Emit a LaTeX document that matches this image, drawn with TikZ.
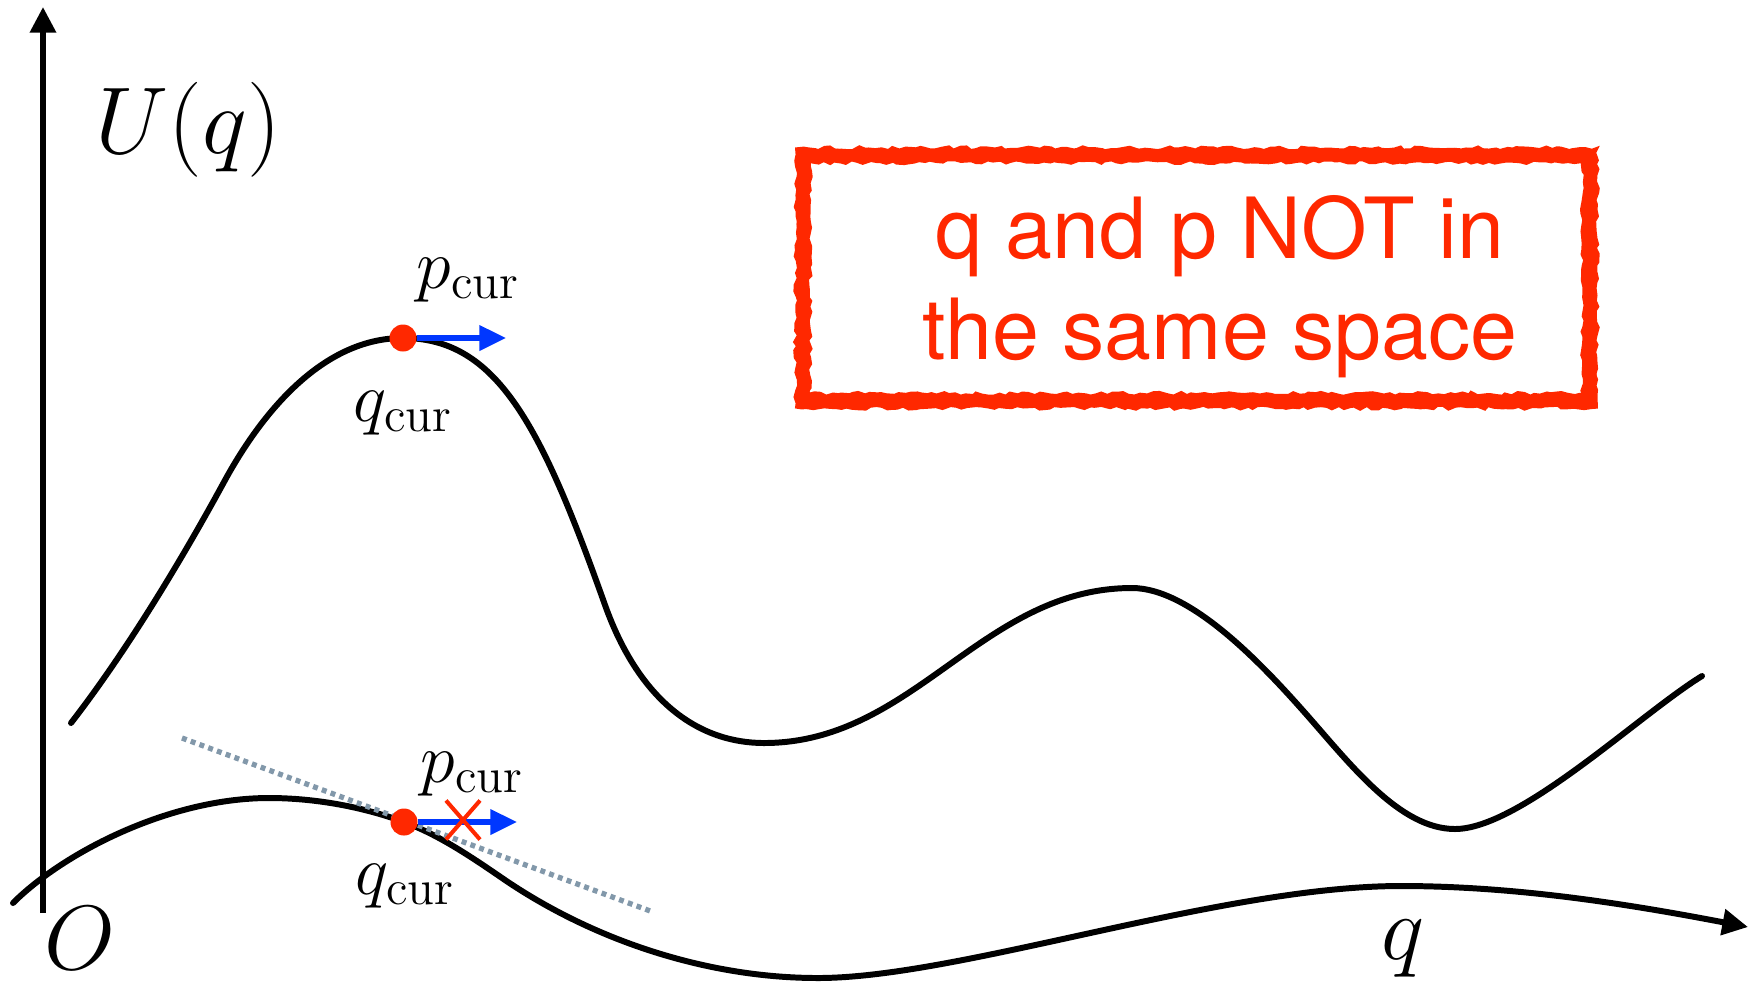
\documentclass[tikz,border=0pt]{standalone}
\usepackage{fix-cm}
\usepackage{fontspec}
\newfontfamily\helv{TeX Gyre Heros}
\usetikzlibrary{arrows.meta,decorations.pathmorphing,shapes.misc}
\definecolor{redc}{RGB}{255,40,0}
\definecolor{bluec}{RGB}{0,55,255}
\definecolor{tanc}{RGB}{130,152,170}
\begin{document}
\begin{tikzpicture}[x=0.01cm,y=-0.01cm,
 curve/.style={line width=1.7pt, line cap=round},
 axisarrow/.style={-{Triangle[length=7.3pt,width=7.2pt]}},
 dotc/.style={circle, fill=redc, inner sep=0pt, minimum size=0.27cm},
 barrow/.style={bluec, line width=1.5pt, -{Triangle[length=7.6pt,width=7pt]}},
 mlabel/.style={inner sep=0pt, anchor=base west, font=\fontsize{20}{24}\selectfont},
 biglabel/.style={inner sep=0pt, anchor=base west, font=\fontsize{27}{30}\selectfont},
 axlabel/.style={inner sep=0pt, anchor=base west, font=\fontsize{26}{30}\selectfont},
 boxtext/.style={inner sep=0pt, anchor=base, text=redc, font=\helv\fontsize{24}{29}\selectfont},
 tangent/.style={tanc, line width=1.5pt, dash pattern=on 1.4pt off 1.25pt},
 xmark/.style={cross out, draw=redc, line width=1.15pt, inner sep=0pt, minimum width=0.3cm, minimum height=0.35cm},
 roughline/.style={redc, line width=1.1pt, decorate, decoration={random steps, segment length=1.6pt, amplitude=0.55pt}},
]
\useasboundingbox (0,0) rectangle (1758,984);
\pgfmathsetseed{7}

% axis
\coordinate (ybot) at (43,913);
\coordinate (ytop) at (43,7);
\draw[line width=1.6pt, axisarrow] (ybot) -- (ytop);

% upper curve
\draw[curve] (71,723) .. controls (126,652) and (181,561) .. (224,482)
  .. controls (262,412) and (323,338) .. (403,338)
  .. controls (498,338) and (542,428) .. (605,605)
  .. controls (640,703) and (700,743) .. (764,743)
  .. controls (914,743) and (982,588) .. (1132,588)
  .. controls (1190,588) and (1261,663) .. (1306,714)
  .. controls (1351,765) and (1400,829) .. (1455,829)
  .. controls (1520,829) and (1640,714) .. (1702,676);

% lower curve (with arrow)
\coordinate (tip) at (1748,927);
\draw[curve, axisarrow] (13,903) .. controls (63,853) and (169,798) .. (269,798)
  .. controls (314,798) and (362,806.5) .. (404,822)
  .. controls (439,835) and (470,856) .. (505,880)
  .. controls (595,941) and (708,978) .. (818,978)
  .. controls (960,978) and (1220,886) .. (1401,886)
  .. controls (1521,886) and (1638,906) .. (tip);

% tangent line
\coordinate (ta) at (182,738);
\coordinate (tb) at (653,912);
\draw[tangent] (ta) -- (tb);

% dots and arrows
\node[dotc] (d1) at (403,338) {};
\coordinate (t1) at (506,338);
\draw[barrow] (d1) -- (t1);
\node[dotc] (d2) at (404,822) {};
\coordinate (t2) at (517,822);
\draw[barrow] (d2) -- (t2);
\node[xmark] (xm) at (463,820) {};

% labels
\node[biglabel] (U) at (95,153) {$U(q)$};
\node[axlabel] (O) at (44,969) {$O$};
\node[axlabel] (qax) at (1381,959) {$q$};
\node[mlabel] (p1) at (416,288) {$p_{\mathrm{cur}}$};
\node[mlabel] (q1) at (353,421) {$q_{\mathrm{cur}}$};
\node[mlabel] (p2) at (420,782) {$p_{\mathrm{cur}}$};
\node[mlabel] (q2) at (355,894) {$q_{\mathrm{cur}}$};

% red box
\node[inner sep=0pt, minimum width=7.85cm, minimum height=2.44cm] (box) at (1196.5,278) {};
\draw[redc, line width=3.4pt] (box.north west) rectangle (box.south east);
\draw[roughline] ([shift={(-6,-6)}]box.north west) rectangle ([shift={(6,6)}]box.south east);
\draw[roughline] ([shift={(6,6)}]box.north west) rectangle ([shift={(-6,-6)}]box.south east);
\draw[roughline] ([shift={(-3,-3)}]box.north west) rectangle ([shift={(3,3)}]box.south east);
\node[boxtext] (l1) at (1220,258) {q and p NOT in};
\node[boxtext] (l2) at (1220,359) {the same space};
\end{tikzpicture}
\end{document}
